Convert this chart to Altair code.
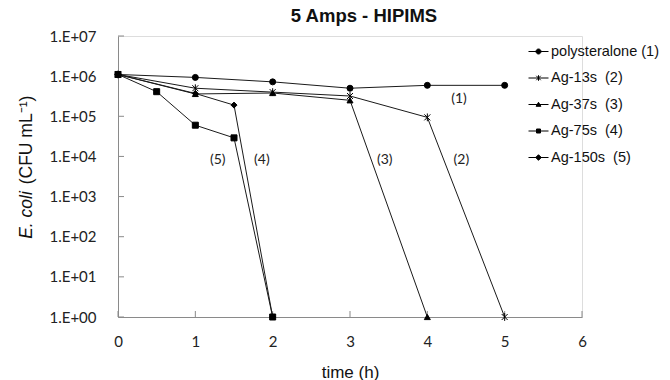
import altair as alt
import pandas as pd

# ---- data ----
NB = "\u00a0"
series_names = ["polysteralone (1)", f"Ag-13s{NB}{NB}(2)", f"Ag-37s{NB}{NB}(3)",
                f"Ag-75s{NB}{NB}(4)", f"Ag-150s{NB}{NB}(5)"]
t_poly = [0, 1, 2, 3, 4, 5]
v_poly = [1.1e6, 9.3e5, 7.2e5, 5.0e5, 5.9e5, 5.9e5]
t_ag13 = [0, 1, 2, 3, 4, 5]
v_ag13 = [1.1e6, 5.0e5, 4.0e5, 3.2e5, 9.4e4, 1]
t_ag37 = [0, 1, 2, 3, 4]
v_ag37 = [1.1e6, 3.6e5, 3.8e5, 2.5e5, 1]
t_ag75 = [0, 0.5, 1, 1.5, 2]
v_ag75 = [1.1e6, 4.1e5, 6.0e4, 2.9e4, 1]
t_ag150 = [0, 1, 1.5, 2]
v_ag150 = [1.1e6, 3.7e5, 1.9e5, 1]

label_texts = ["(1)", "(2)", "(3)", "(4)", "(5)"]
label_x = [4.41, 4.44, 3.45, 1.86, 1.29]
label_y = [2.7e5, 8.1e3, 8.1e3, 8.1e3, 8.1e3]

x_ticks = [0, 1, 2, 3, 4, 5, 6]
y_ticks = [1, 10, 100, 1e3, 1e4, 1e5, 1e6, 1e7]
y_tick_labels = ["1.E+00", "1.E+01", "1.E+02", "1.E+03", "1.E+04", "1.E+05", "1.E+06", "1.E+07"]

title_text = "5 Amps - HIPIMS"
x_title = "time (h)"
y_title_italic = "E. coli"
y_title_rest = "(CFU mL\u207b\u00b9)"

# ---- build table ----
rows = []
for name, ts, vs in zip(series_names,
                        [t_poly, t_ag13, t_ag37, t_ag75, t_ag150],
                        [v_poly, v_ag13, v_ag37, v_ag75, v_ag150]):
    for t, v in zip(ts, vs):
        rows.append({"series": name, "t": t, "v": v})
df = pd.DataFrame(rows)
labels_df = pd.DataFrame({"txt": label_texts, "t": label_x, "v": label_y})

W, H = 464, 281
FONT = "Liberation Sans"
TICKFONT = "Lato"

x_scale = alt.Scale(domain=[0, 6], nice=False)
y_scale = alt.Scale(type="log", domain=[1, 1e7], nice=False)

label_expr = " : ".join(f"datum.value == {v} ? '{l}'" for v, l in zip(y_ticks, y_tick_labels)) + " : ''"

marker_shapes = ["circle",
                 "M-1,-1L1,1M-1,1L1,-1M0,-1.3L0,1.3",
                 "triangle-up", "square", "diamond"]
legend_shapes = [
    "M-1,0L1,0M-0.25,0A0.25,0.25 0 1,0 0.25,0A0.25,0.25 0 1,0 -0.25,0Z",
    "M-1,0L1,0M-0.22,-0.22L0.22,0.22M-0.22,0.22L0.22,-0.22M0,-0.28L0,0.28",
    "M-1,0L1,0M-0.24,0.18L0,-0.22L0.24,0.18Z",
    "M-1,0L1,0M-0.2,-0.2L0.2,-0.2L0.2,0.2L-0.2,0.2Z",
    "M-1,0L1,0M-0.28,0L0,-0.28L0.28,0L0,0.28Z",
]

x_enc = alt.X("t:Q", scale=x_scale,
              axis=alt.Axis(values=x_ticks, ticks=False, grid=False, title=x_title, format="d",
                            labelFont=TICKFONT, labelFontSize=15, labelColor="#222",
                            labelPadding=17, titleFont=FONT, titleFontSize=17,
                            titleFontWeight="normal", titleColor="#111", titlePadding=15,
                            domainColor="#8a8a8a", labelFlush=False))
y_enc = alt.Y("v:Q", scale=y_scale,
              axis=alt.Axis(values=y_ticks, ticks=False, grid=False, title=None,
                            labelExpr=label_expr, labelFont=TICKFONT, labelFontSize=15,
                            labelColor="#222", labelPadding=22, domainColor="#8a8a8a",
                            labelFlush=False))

lines = alt.Chart(df).mark_line(color="#1a1a1a", strokeWidth=1).encode(
    x=x_enc, y=y_enc, detail="series:N", order="t:Q")

points = alt.Chart(df).mark_point(filled=True, fill="black", stroke="black",
                                  strokeWidth=1, opacity=1, size=36).encode(
    x="t:Q", y="v:Q",
    shape=alt.Shape("series:N", scale=alt.Scale(domain=series_names, range=marker_shapes),
                    legend=None))

legend_layer = alt.Chart(df).mark_point(filled=False, fill="black", stroke="black",
                                        strokeWidth=1, opacity=0).encode(
    x="t:Q", y="v:Q",
    shape=alt.Shape("series:N",
                    scale=alt.Scale(domain=series_names, range=legend_shapes),
                    legend=alt.Legend(title=None, orient="none", legendX=410, legendY=5,
                                      symbolSize=400, symbolOpacity=1,
                                      symbolStrokeWidth=1, labelFont=FONT, labelFontSize=14.5,
                                      labelColor="#111", labelOffset=2, rowPadding=9.5,
                                      padding=0, labelLimit=300)))

# inward tick marks
xt_df = pd.DataFrame({"t": x_ticks})
yt_df = pd.DataFrame({"v": y_ticks})
x_tick_rules = alt.Chart(xt_df).mark_rule(color="#8a8a8a", strokeWidth=1).encode(
    x="t:Q", y=alt.value(H), y2=alt.value(H - 6))
y_tick_rules = alt.Chart(yt_df).mark_rule(color="#8a8a8a", strokeWidth=1).encode(
    y="v:Q", x=alt.value(0), x2=alt.value(6))

annot = alt.Chart(labels_df).mark_text(font=TICKFONT, fontSize=14, color="#222").encode(
    x="t:Q", y="v:Q", text="txt:N")

yt1 = alt.Chart(pd.DataFrame({"s": [y_title_italic]})).mark_text(
    font=FONT, fontSize=17.5, fontStyle="italic", angle=270, color="#111",
    align="center", baseline="middle").encode(
    text="s:N", x=alt.value(-91), y=alt.value(179))
yt2 = alt.Chart(pd.DataFrame({"s": [y_title_rest]})).mark_text(
    font=FONT, fontSize=17.5, angle=270, color="#111",
    align="center", baseline="middle").encode(
    text="s:N", x=alt.value(-91), y=alt.value(104))

chart = alt.layer(y_tick_rules, x_tick_rules, lines, points, legend_layer, annot, yt1, yt2).resolve_scale(
    shape="independent"
).properties(
    width=W, height=H,
    title=alt.TitleParams(title_text, font=FONT, fontSize=18.5, fontWeight="bold",
                          color="#111", anchor="middle", dx=14, offset=4),
    padding={"left": 118, "top": 36, "right": 88, "bottom": 63},
    autosize=alt.AutoSizeParams(type="none"),
).configure_view(stroke=None).configure(background="white")

chart.save("out.html", embed_options={"renderer": "svg", "actions": False})
